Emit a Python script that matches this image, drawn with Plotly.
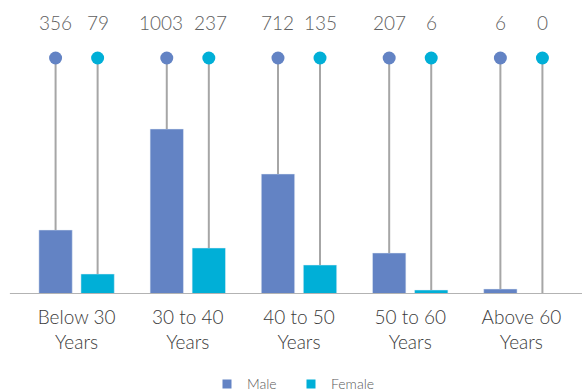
import plotly.graph_objects as go

categories = ["Below 30<br>Years", "30 to 40<br>Years", "40 to 50<br>Years", "50 to 60<br>Years", "Above 60<br>Years"]
male_labels = [356, 1003, 712, 207, 6]
female_labels = [79, 237, 135, 6, 0]
# bar heights as drawn in the picture (estimated, arbitrary units)
male_bars = [64, 165, 120, 41, 5]
female_bars = [20, 46, 29, 4, 0]

MALE_COLOR = "#6383C4"
FEMALE_COLOR = "#00AFD7"
STEM_COLOR = "#A6A6A6"
DOT_LEVEL = 236
LABEL_LEVEL = 271.5
OFFSET = 0.189
BAR_W = 0.30
FONT = "Lato, Open Sans, sans-serif"

idx = list(range(len(categories)))
xm = [i - OFFSET for i in idx]
xf = [i + OFFSET for i in idx]

fig = go.Figure()

# stems
for xs, vals in ((xm, male_bars), (xf, female_bars)):
    lx, ly = [], []
    for x, v in zip(xs, vals):
        lx += [x, x, None]
        ly += [v, DOT_LEVEL, None]
    fig.add_trace(go.Scatter(x=lx, y=ly, mode="lines", line=dict(color=STEM_COLOR, width=2),
                             showlegend=False, hoverinfo="skip"))

fig.add_trace(go.Bar(x=xm, y=male_bars, width=BAR_W, marker_color=MALE_COLOR, showlegend=False, name="Male"))
fig.add_trace(go.Bar(x=xf, y=female_bars, width=BAR_W, marker_color=FEMALE_COLOR, showlegend=False, name="Female"))

# dots
fig.add_trace(go.Scatter(x=xm, y=[DOT_LEVEL] * len(xm), mode="markers",
                         marker=dict(color=MALE_COLOR, size=13), showlegend=False))
fig.add_trace(go.Scatter(x=xf, y=[DOT_LEVEL] * len(xf), mode="markers",
                         marker=dict(color=FEMALE_COLOR, size=13), showlegend=False))

# value labels (small shifts where labels would collide, as in the original)
label_font = dict(family=FONT, size=19, color="#606060", weight=300)
for i in idx:
    fig.add_annotation(x=xm[i], y=LABEL_LEVEL, text=str(male_labels[i]), showarrow=False,
                       xanchor="center", yanchor="middle", font=label_font,
                       xshift=-6 if male_labels[i] >= 1000 else 0)
    fig.add_annotation(x=xf[i], y=LABEL_LEVEL, text=str(female_labels[i]), showarrow=False,
                       xanchor="center", yanchor="middle", font=label_font,
                       xshift=2 if male_labels[i] >= 1000 else 0)

# legend entries
fig.add_trace(go.Scatter(x=[None], y=[None], mode="markers", name="Male",
                         marker=dict(symbol="square", size=9, color=MALE_COLOR)))
fig.add_trace(go.Scatter(x=[None], y=[None], mode="markers", name="Female",
                         marker=dict(symbol="square", size=9, color=FEMALE_COLOR)))

fig.add_shape(type="line", xref="paper", yref="y", x0=-0.02, x1=1.01, y0=0, y1=0,
              line=dict(color="#B3B3B3", width=2))

fig.update_layout(
    width=582, height=391,
    margin=dict(l=21, r=5, t=10, b=97, autoexpand=False),
    plot_bgcolor="white", paper_bgcolor="white",
    font=dict(family=FONT, color="#404040"),
    xaxis=dict(range=[-0.5, 4.5], tickvals=idx, ticktext=categories, showgrid=False,
               zeroline=False, showline=False, ticks="", ticklabelstandoff=10,
               automargin=False,
               tickfont=dict(family=FONT, size=19, color="#3A3A3A", weight=300)),
    yaxis=dict(range=[0, 284], visible=False, showgrid=False, zeroline=False),
    legend=dict(orientation="h", x=0.4856, xanchor="center", y=-0.262, yanchor="top",
                font=dict(family=FONT, size=14, color="#595959", weight=300),
                itemwidth=30, tracegroupgap=0, entrywidth=39, entrywidthmode="pixels"),
    showlegend=True,
)

fig.write_html("out.html")
